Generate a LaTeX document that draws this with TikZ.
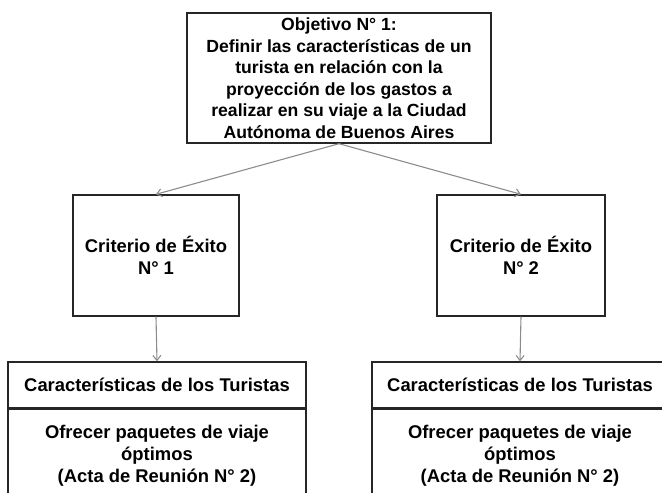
\documentclass[tikz,border=0pt]{standalone}
\usepackage{fontspec}
\setmainfont{Liberation Sans}
\usetikzlibrary{arrows.meta}
\begin{document}
\begin{tikzpicture}[x=1pt,y=-1pt,
  box/.style={draw=black!85,line width=1.4pt,rectangle,inner sep=0pt,align=center,
    font=\fontsize{17.6}{21.5}\selectfont\bfseries},
  big/.style={font=\fontsize{18.4}{22}\selectfont\bfseries},
  conn/.style={draw=black!45,line width=1.1pt,-{Straight Barb[length=5pt,width=8pt]}}]
\useasboundingbox (0,0) rectangle (662,493);
\node[box,minimum width=304pt,minimum height=130pt] (top) at (339,78)
  {Objetivo N° 1:\\Definir las características de un\\turista en relación con la\\proyección de los gastos a\\realizar en su viaje a la Ciudad\\Autónoma de Buenos Aires};
\node[box,big,minimum width=166pt,minimum height=121pt] (c1) at (156,255.5)
  {Criterio de Éxito\\N° 1};
\node[box,big,minimum width=168pt,minimum height=121pt] (c2) at (521,255.5)
  {Criterio de Éxito\\N° 2};
\node[box,big,minimum width=298pt,minimum height=46pt] (h1) at (157,385)
  {Características de los Turistas};
\node[box,big,minimum width=298pt,minimum height=92pt,anchor=north] (d1) at (h1.south)
  {Ofrecer paquetes de viaje\\óptimos\\(Acta de Reunión N° 2)};
\node[box,big,minimum width=296pt,minimum height=46pt] (h2) at (520,385)
  {Características de los Turistas};
\node[box,big,minimum width=296pt,minimum height=92pt,anchor=north] (d2) at (h2.south)
  {Ofrecer paquetes de viaje\\óptimos\\(Acta de Reunión N° 2)};
\draw[conn] (top.south) -- (c1.north);
\draw[conn] (top.south) -- (c2.north);
\draw[conn] (c1.south) -- (h1.north);
\draw[conn] (c2.south) -- (h2.north);
\end{tikzpicture}
\end{document}
